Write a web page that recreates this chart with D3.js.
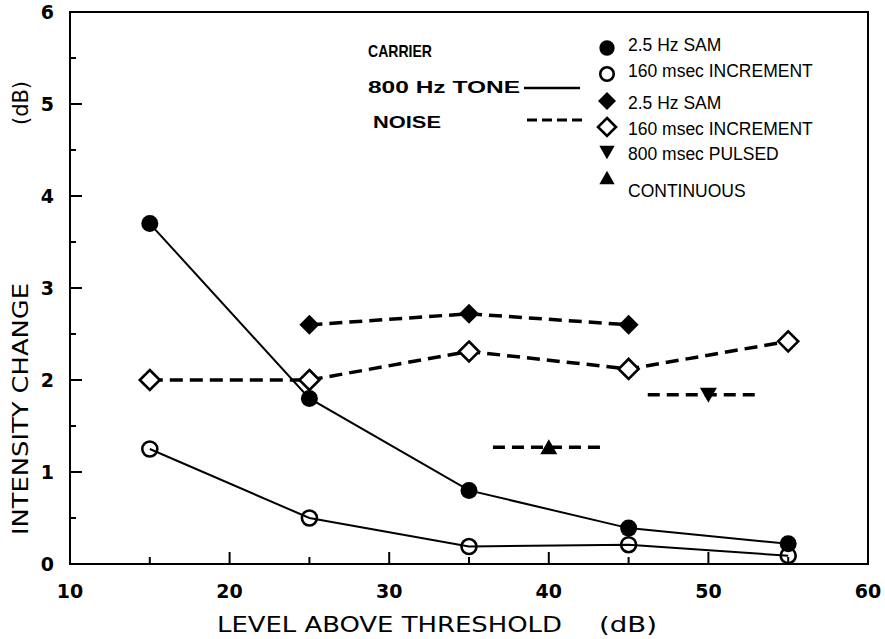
<!DOCTYPE html>
<html>
<head>
<meta charset="utf-8">
<script src="https://cdn.jsdelivr.net/npm/d3@7"></script>
<style>
  body { margin: 0; background: #fff; }
  svg { display: block; }
  .tick-label { font-family: "DejaVu Sans", sans-serif; font-weight: bold; font-size: 19px; }
  .axis-title { font-family: "DejaVu Sans", sans-serif; font-stretch: condensed; font-size: 22px; }
  .leg-left { font-family: "Liberation Sans", Arial, sans-serif; font-weight: bold; font-size: 17px; }
  .leg-right { font-family: "Liberation Sans", Arial, sans-serif; font-size: 17.5px; }
</style>
</head>
<body>
<svg width="885" height="639"></svg>
<script>
/* global d3 */
// levels (dB above threshold)
var levels = [15, 25, 35, 45, 55];
var noiseSamLevels = [25, 35, 45];

// intensity change (dB)
var toneSam = [3.7, 1.8, 0.8, 0.39, 0.22];
var toneInc = [1.25, 0.5, 0.19, 0.21, 0.09];
var noiseSam = [2.6, 2.72, 2.6];
var noiseInc = [2.0, 2.0, 2.31, 2.12, 2.42];

// single points with a horizontal dashed bar
var pulsed = {level: 50, value: 1.84, span: [46.2, 53.1]};
var continuous = {level: 40, value: 1.27, span: [36.5, 43.4]};

var xTicks = [10, 20, 30, 40, 50, 60];
var xMinor = [15, 25, 35, 45, 55];
var yTicks = [0, 1, 2, 3, 4, 5, 6];
var yMinor = [0.5, 1.5, 2.5, 3.5, 4.5, 5.5];

var legendItems = [
  {shape: 'circle', fill: true, label: '2.5 Hz SAM'},
  {shape: 'circle', fill: false, label: '160 msec INCREMENT'},
  {shape: 'diamond', fill: true, label: '2.5 Hz SAM'},
  {shape: 'diamond', fill: false, label: '160 msec INCREMENT'},
  {shape: 'down', fill: true, label: '800 msec PULSED'},
  {shape: 'up', fill: true, label: 'CONTINUOUS'}
];

var svg = d3.select('svg');

var x = d3.scaleLinear().domain([10, 60]).range([70, 868]);
var y = d3.scaleLinear().domain([0, 6]).range([564, 12]);

// frame
svg.append('rect')
  .attr('x', x(10)).attr('y', y(6))
  .attr('width', x(60) - x(10)).attr('height', y(0) - y(6))
  .attr('fill', 'none').attr('stroke', '#000').attr('stroke-width', 2);

// y ticks (inward)
svg.selectAll('.ymaj').data(yTicks.slice(1, -1)).enter().append('line')
  .attr('x1', x(10)).attr('x2', x(10) + 12)
  .attr('y1', d => y(d)).attr('y2', d => y(d))
  .attr('stroke', '#000').attr('stroke-width', 2);
svg.selectAll('.ymin').data(yMinor).enter().append('line')
  .attr('x1', x(10)).attr('x2', x(10) + 6)
  .attr('y1', d => y(d)).attr('y2', d => y(d))
  .attr('stroke', '#000').attr('stroke-width', 2);

// x ticks (inward)
svg.selectAll('.xmaj').data(xTicks.slice(1, -1)).enter().append('line')
  .attr('x1', d => x(d)).attr('x2', d => x(d))
  .attr('y1', y(0)).attr('y2', y(0) - 12)
  .attr('stroke', '#000').attr('stroke-width', 2);
svg.selectAll('.xmin').data(xMinor).enter().append('line')
  .attr('x1', d => x(d)).attr('x2', d => x(d))
  .attr('y1', y(0)).attr('y2', y(0) - 7)
  .attr('stroke', '#000').attr('stroke-width', 2);

// tick labels
svg.selectAll('.xl').data(xTicks).enter().append('text')
  .attr('class', 'tick-label')
  .attr('x', d => x(d)).attr('y', y(0) + 34)
  .attr('text-anchor', 'middle')
  .text(d => d);
svg.selectAll('.yl').data(yTicks).enter().append('text')
  .attr('class', 'tick-label')
  .attr('x', x(10) - 16).attr('y', d => y(d) + 7)
  .attr('text-anchor', 'end')
  .text(d => d);

// axis titles
svg.append('text').attr('class', 'axis-title')
  .attr('x', 217).attr('y', 632)
  .attr('textLength', 345).attr('lengthAdjust', 'spacingAndGlyphs')
  .text('LEVEL ABOVE THRESHOLD');
svg.append('text').attr('class', 'axis-title')
  .attr('x', 599).attr('y', 632)
  .attr('textLength', 58).attr('lengthAdjust', 'spacingAndGlyphs')
  .text('(dB)');

var yt = svg.append('g').attr('transform', 'translate(28,0) rotate(-90)');
yt.append('text').attr('class', 'axis-title')
  .attr('x', -535).attr('y', 0)
  .attr('textLength', 252).attr('lengthAdjust', 'spacingAndGlyphs')
  .text('INTENSITY CHANGE');
yt.append('text').attr('class', 'axis-title')
  .attr('x', -125).attr('y', 0)
  .attr('textLength', 44).attr('lengthAdjust', 'spacingAndGlyphs')
  .text('(dB)');

// marker drawing
function marker(g, shape, filled, size) {
  var s = size;
  var el;
  if (shape === 'circle') {
    el = g.append('circle').attr('r', filled ? s * 0.85 : s * 0.75);
  } else if (shape === 'diamond') {
    el = g.append('path').attr('d', 'M0,' + (-s) + 'L' + s + ',0L0,' + s + 'L' + (-s) + ',0Z');
  } else if (shape === 'down') {
    el = g.append('path').attr('d', 'M' + (-s * 0.85) + ',' + (-s * 0.7) + 'L' + (s * 0.85) + ',' + (-s * 0.7) + 'L0,' + (s * 0.8) + 'Z');
  } else {
    el = g.append('path').attr('d', 'M' + (-s * 0.85) + ',' + (s * 0.7) + 'L' + (s * 0.85) + ',' + (s * 0.7) + 'L0,' + (-s * 0.8) + 'Z');
  }
  if (filled) {
    el.attr('fill', '#000').attr('stroke', 'none');
  } else {
    el.attr('fill', shape === 'circle' ? 'none' : '#fff')
      .attr('stroke', '#000').attr('stroke-width', 2.6);
  }
  return el;
}

var solid = d3.line().x(d => x(d[0])).y(d => y(d[1]));

function series(lv, vals, dashed, shape, filled) {
  var pts = lv.map((l, i) => [l, vals[i]]);
  svg.append('path').datum(pts)
    .attr('d', solid)
    .attr('fill', 'none').attr('stroke', '#000')
    .attr('stroke-width', dashed ? 3.5 : 2)
    .attr('stroke-dasharray', dashed ? '13,7' : null);
  pts.forEach(p => {
    var g = svg.append('g').attr('transform', 'translate(' + x(p[0]) + ',' + y(p[1]) + ')');
    marker(g, shape, filled, 10);
  });
}

function bar(pt, shape) {
  svg.append('line')
    .attr('x1', x(pt.span[0])).attr('x2', x(pt.span[1]))
    .attr('y1', y(pt.value)).attr('y2', y(pt.value))
    .attr('stroke', '#000').attr('stroke-width', 3.5)
    .attr('stroke-dasharray', '12,7');
  var g = svg.append('g').attr('transform', 'translate(' + x(pt.level) + ',' + y(pt.value) + ')');
  marker(g, shape, true, 10);
}

series(noiseSamLevels, noiseSam, true, 'diamond', true);
series(levels, noiseInc, true, 'diamond', false);
bar(pulsed, 'down');
bar(continuous, 'up');
series(levels, toneSam, false, 'circle', true);
series(levels, toneInc, false, 'circle', false);

// legend, left block
svg.append('text').attr('class', 'leg-left').attr('x', 368).attr('y', 57)
  .attr('textLength', 64).attr('lengthAdjust', 'spacingAndGlyphs').text('CARRIER');
svg.append('text').attr('class', 'leg-left').attr('x', 368).attr('y', 93)
  .attr('textLength', 152).attr('lengthAdjust', 'spacingAndGlyphs').text('800 Hz TONE');
svg.append('text').attr('class', 'leg-left').attr('x', 373).attr('y', 128)
  .attr('textLength', 68).attr('lengthAdjust', 'spacingAndGlyphs').text('NOISE');
svg.append('line').attr('x1', 524).attr('x2', 580).attr('y1', 88).attr('y2', 88)
  .attr('stroke', '#000').attr('stroke-width', 2.5);
svg.append('line').attr('x1', 527).attr('x2', 583).attr('y1', 120).attr('y2', 120)
  .attr('stroke', '#000').attr('stroke-width', 3)
  .attr('stroke-dasharray', '10,5');

// legend, right block
var legY = [48, 74, 101, 127, 152, 178];
var legTextY = [51, 77, 109, 135, 160, 197];
legendItems.forEach((d, i) => {
  var g = svg.append('g').attr('transform', 'translate(607,' + legY[i] + ')');
  marker(g, d.shape, d.fill, 9);
  svg.append('text').attr('class', 'leg-right')
    .attr('x', 628).attr('y', legTextY[i]).text(d.label);
});
</script>
</body>
</html>
